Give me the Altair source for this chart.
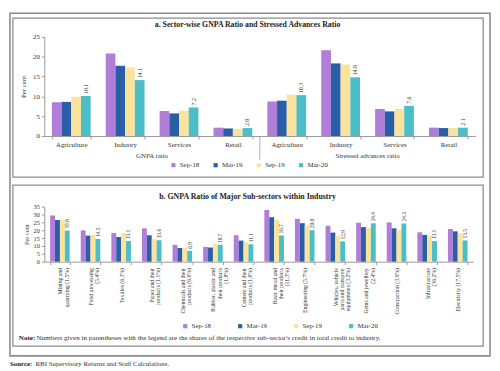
import altair as alt
import pandas as pd

FONT = "Liberation Serif"
TXT = "#333333"
FRAME = "#8c8c8c"

series = ["Sep-18", "Mar-19", "Sep-19", "Mar-20"]
colors = ["#B07ED9", "#2A5FA8", "#FCE39B", "#4CBEC7"]

# Panel a
a_groups = ["GNPA ratio", "Stressed advances ratio"]
a_categories = ["Agriculture", "Industry", "Services", "Retail"]
gnpa_sep18 = [8.5, 20.8, 6.3, 2.1]
gnpa_mar19 = [8.6, 17.7, 5.7, 1.9]
gnpa_sep19 = [9.9, 17.3, 6.4, 1.8]
gnpa_mar20 = [10.1, 14.1, 7.2, 2.0]
sa_sep18 = [8.7, 21.6, 6.8, 2.1]
sa_mar19 = [8.9, 18.3, 6.2, 2.0]
sa_sep19 = [10.4, 18.0, 6.8, 2.0]
sa_mar20 = [10.3, 14.8, 7.6, 2.1]

# Panel b
b_categories = [
    "Mining and|quarrying (1.5%)",
    "Food processing|(5.4%)",
    "Textiles (6.3%)",
    "Paper and their|products (1.1%)",
    "Chemicals and their|products (6.0%)",
    "Rubber, plastic and|their products|(1.8%)",
    "Cement and their|products (1.0%)",
    "Basic metal and|their products|(11.3%)",
    "Engineering (5.7%)",
    "Vehicles, vehicle|parts and transport|equipments (3.2%)",
    "Gems and jewellery|(2.4%)",
    "Construction (3.9%)",
    "Infrastructure|(36.2%)",
    "Electricity (17.5%)",
]
b_sep18 = [29.4, 19.9, 18.2, 21.2, 10.7, 9.4, 16.8, 32.9, 27.3, 22.9, 24.8, 25.0, 18.7, 20.8]
b_mar19 = [26.6, 16.6, 15.7, 16.8, 8.7, 9.0, 13.4, 28.3, 24.5, 18.5, 22.0, 21.2, 17.0, 19.3]
b_sep19 = [26.6, 17.2, 18.2, 14.5, 8.8, 11.5, 12.4, 26.6, 23.0, 16.4, 21.6, 20.1, 16.4, 18.0]
b_mar20 = [19.8, 14.5, 13.1, 13.6, 6.9, 10.7, 11.1, 16.7, 20.0, 12.9, 24.4, 24.3, 13.1, 13.5]

title_a = "a. Sector-wise GNPA Ratio and Stressed Advances Ratio"
title_b = "b. GNPA Ratio of Major Sub-sectors within Industry"
note_head = "Note:"
note_body = ("Numbers given in parentheses with the legend are the shares of the "
             "respective sub-sector's credit in total credit to industry.")
source_head = "Source:"
source_body = "RBI Supervisory Returns and Staff Calculations."

# ---------- build tables ----------
rows_a = []
a_vals = {
    "GNPA ratio": [gnpa_sep18, gnpa_mar19, gnpa_sep19, gnpa_mar20],
    "Stressed advances ratio": [sa_sep18, sa_mar19, sa_sep19, sa_mar20],
}
keys_a = []
for g in a_groups:
    for ci, c in enumerate(a_categories):
        k = g + "|" + c
        keys_a.append(k)
        for si, s in enumerate(series):
            v = a_vals[g][si][ci]
            rows_a.append({"key": k, "series": s, "value": v, "label": f"{v:.1f}"})
df_a = pd.DataFrame(rows_a)

rows_b = []
b_vals = [b_sep18, b_mar19, b_sep19, b_mar20]
for ci, c in enumerate(b_categories):
    for si, s in enumerate(series):
        v = b_vals[si][ci]
        rows_b.append({"key": c, "series": s, "value": v, "label": f"{v:.1f}"})
df_b = pd.DataFrame(rows_b)

color_scale = alt.Scale(domain=series, range=colors)
off_scale = alt.Scale(domain=series, paddingInner=0, paddingOuter=0)

one = alt.Data(values=[{"o": 1}])


def text_layer(txt, x, y, size=7.0, weight="normal", align="left", color=TXT):
    return alt.Chart(pd.DataFrame({"t": [txt]})).mark_text(
        align=align, baseline="middle", font=FONT, fontSize=size, fontWeight=weight, color=color
    ).encode(x=alt.value(x), y=alt.value(y), text="t:N")


# ---------- panel a ----------
WA, HA = 439, 101
PIA = 0.28
POA = 0.14
step_a = WA / (len(keys_a) - PIA + 2 * POA)
half_gap = PIA * step_a / 2
xa_axis = alt.Axis(title=None, labelExpr="split(datum.label, '|')[1]", labelAngle=0,
                   labelFont=FONT, labelFontSize=7, labelColor=TXT, labelPadding=2,
                   tickBand="extent", tickSize=3, tickColor="#999", domainColor="#999")
xa_scale = alt.Scale(paddingInner=PIA, paddingOuter=POA)
ya_axis = alt.Axis(values=[0, 5, 10, 15, 20, 25], title="Per cent", titleFont=FONT,
                   titleFontSize=7, titleFontWeight="normal", titleColor=TXT, titlePadding=6,
                   labelFont=FONT, labelFontSize=7, labelColor=TXT, tickSize=3,
                   labelOverlap=False, labelFlush=False,
                   tickColor="#999", domainColor="#999", grid=False)
ya_scale = alt.Scale(domain=[0, 25], nice=False)


def xa(bp=0.5):
    return alt.X("key:N", sort=keys_a, scale=xa_scale, axis=xa_axis, bandPosition=bp)


ya = alt.Y("value:Q", scale=ya_scale, axis=ya_axis)
xoff = alt.XOffset("series:N", sort=series, scale=off_scale)

bars_a = alt.Chart(df_a).mark_bar().encode(
    x=alt.X("key:N", sort=keys_a, scale=xa_scale, axis=xa_axis), xOffset=xoff, y=ya,
    color=alt.Color("series:N", scale=color_scale, title=None,
                    legend=alt.Legend(orient="none", legendX=128, legendY=127, direction="horizontal",
                                      columns=4, symbolType="square", symbolSize=18,
                                      labelFont=FONT, labelFontSize=7, labelColor=TXT,
                                      columnPadding=13, labelOffset=3)),
)
lab_a = alt.Chart(df_a).transform_filter(alt.datum.series == "Mar-20").mark_text(
    angle=270, align="left", baseline="middle", dx=2, font=FONT, fontSize=6, color=TXT
).encode(x=alt.X("key:N", sort=keys_a, scale=xa_scale, axis=xa_axis), xOffset=xoff, y=ya,
         text="label:N")

grp_df = pd.DataFrame({"key": [a_groups[0] + "|Industry", a_groups[1] + "|Industry"], "name": a_groups})
grp_a = alt.Chart(grp_df).mark_text(font=FONT, fontSize=7, color=TXT, baseline="middle",
                                    dx=half_gap).encode(x=xa(1), y=alt.value(121), text="name:N")
sep_df = pd.DataFrame({"key": [a_groups[0] + "|Retail"]})
sep_a = alt.Chart(sep_df).mark_rule(color="#999", strokeWidth=0.8, xOffset=half_gap).encode(
    x=xa(1), y=alt.value(HA), y2=alt.value(HA + 24))

outer = alt.Chart(one).mark_rect(fillOpacity=0, stroke=FRAME, strokeWidth=1.6).encode(
    x=alt.value(-35), x2=alt.value(454), y=alt.value(-24), y2=alt.value(325))
box_a = alt.Chart(one).mark_rect(fillOpacity=0, stroke=FRAME, strokeWidth=1.3).encode(
    x=alt.value(-32), x2=alt.value(447), y=alt.value(-19), y2=alt.value(143))

ttl_a = text_layer(title_a, 207, -12, size=7.9, weight="bold", align="center", color="#222")

panel_a = alt.layer(outer, box_a, bars_a, lab_a, grp_a, sep_a, ttl_a).properties(width=WA, height=HA)

# ---------- panel b ----------
WB, HB = 437, 56
xb_axis = alt.Axis(title=None, labelExpr="split(datum.label, '|')", labelAngle=270,
                   labelAlign="right", labelBaseline="middle",
                   labelFont=FONT, labelFontSize=5.8, labelLineHeight=6.3, labelColor=TXT,
                   labelPadding=3, tickBand="extent", tickSize=3, tickColor="#999", domainColor="#999")
xb_scale = alt.Scale(paddingInner=0.36, paddingOuter=0.19)
xb = alt.X("key:N", sort=b_categories, scale=xb_scale, axis=xb_axis)
yb_axis = alt.Axis(values=[0, 5, 10, 15, 20, 25, 30, 35], title="Per cent", titleFont=FONT,
                   titleFontSize=6.5, titleFontWeight="normal", titleColor=TXT, titlePadding=4,
                   labelFont=FONT, labelFontSize=6.5, labelColor=TXT, tickSize=3,
                   labelOverlap=False, labelFlush=False,
                   tickColor="#999", domainColor="#999", grid=False)
yb = alt.Y("value:Q", scale=alt.Scale(domain=[0, 35], nice=False), axis=yb_axis)
bars_b = alt.Chart(df_b).mark_bar().encode(
    x=xb, xOffset=xoff, y=yb,
    color=alt.Color("series:N", scale=color_scale, title=None,
                    legend=alt.Legend(orient="none", legendX=140, legendY=118, direction="horizontal",
                                      columns=4, symbolType="square", symbolSize=18,
                                      labelFont=FONT, labelFontSize=7, labelColor=TXT,
                                      columnPadding=26, labelOffset=3)),
)
lab_b = alt.Chart(df_b).transform_filter(alt.datum.series == "Mar-20").mark_text(
    angle=270, align="left", baseline="middle", dx=2, font=FONT, fontSize=5.5, color=TXT
).encode(x=xb, xOffset=xoff, y=yb, text="label:N")

box_b = alt.Chart(one).mark_rect(fillOpacity=0, stroke=FRAME, strokeWidth=1.3).encode(
    x=alt.value(-32), x2=alt.value(447), y=alt.value(-22), y2=alt.value(142))

ttl_b = text_layer(title_b, 207, -10, size=8.0, weight="bold", align="center", color="#222")
note_h = text_layer(note_head, -26, 134, size=7.2, weight="bold", color="#222")
note_t = text_layer(note_body, -8, 134, size=7.2)
src_h = text_layer(source_head, -35, 160, size=7.0, weight="bold", color="#222")
src_t = text_layer(source_body, -9, 160, size=7.0)

panel_b = alt.layer(box_b, bars_b, lab_b, ttl_b, note_h, note_t, src_h, src_t).properties(
    width=WB, height=HB)

chart = alt.vconcat(panel_a, panel_b, spacing=72, bounds="flush", padding=0).resolve_legend(
    color="independent").resolve_scale(xOffset="independent").configure_view(stroke="transparent")

chart.save("out.html", embed_options={"renderer": "svg", "actions": False})
